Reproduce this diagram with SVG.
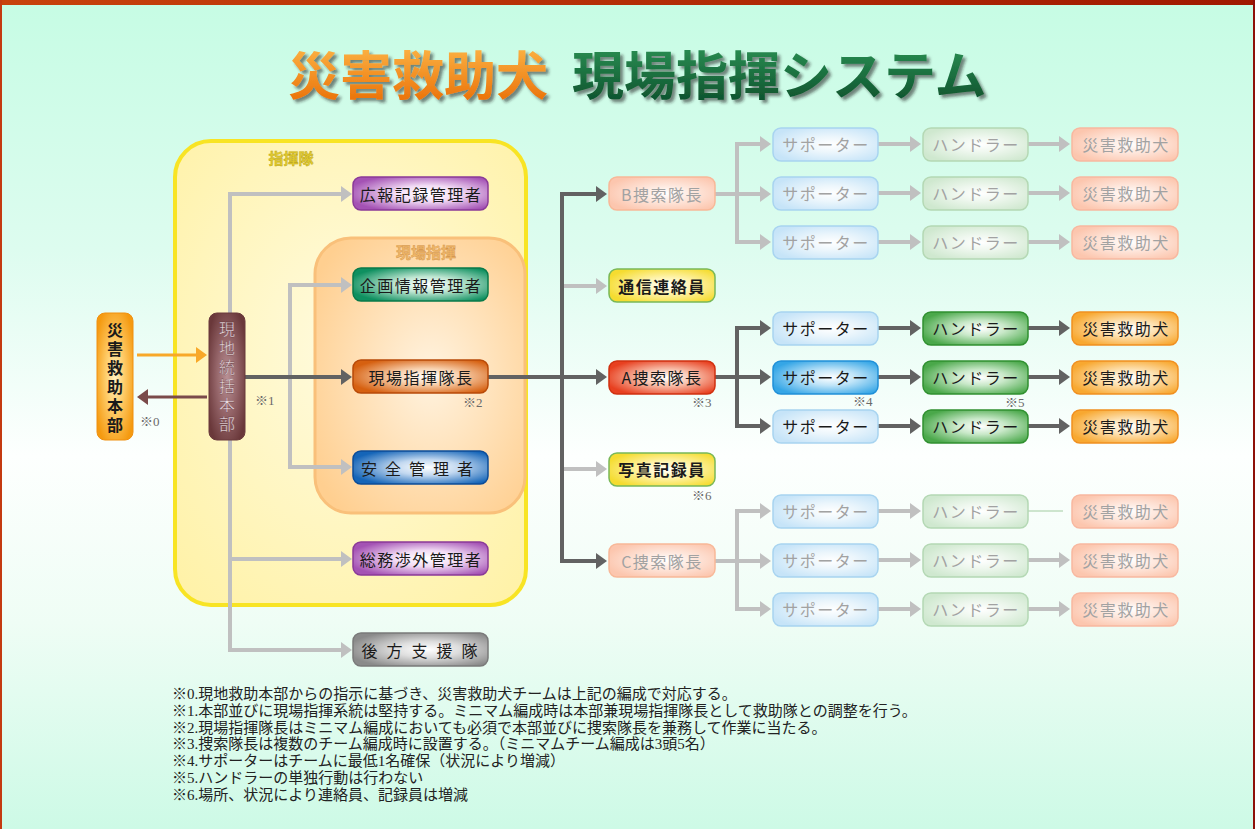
<svg xmlns="http://www.w3.org/2000/svg" width="1255" height="829" viewBox="0 0 1255 829">
<defs>
  <linearGradient id="bg" x1="0" y1="0" x2="0" y2="1">
    <stop offset="0" stop-color="#c6fce4"/>
    <stop offset="0.3" stop-color="#ddfcef"/>
    <stop offset="0.55" stop-color="#fdfffe"/>
    <stop offset="0.75" stop-color="#effdf5"/>
    <stop offset="1" stop-color="#cdfae6"/>
  </linearGradient>
  <linearGradient id="border" x1="0" y1="0" x2="1" y2="0">
    <stop offset="0" stop-color="#c8420c"/>
    <stop offset="1" stop-color="#a01800"/>
  </linearGradient>
  <linearGradient id="titleO" x1="0" y1="0" x2="0" y2="1">
    <stop offset="0" stop-color="#ffc050"/>
    <stop offset="1" stop-color="#e86800"/>
  </linearGradient>
  <linearGradient id="titleG" x1="0" y1="0" x2="0" y2="1">
    <stop offset="0" stop-color="#2f9a5a"/>
    <stop offset="1" stop-color="#0a4a28"/>
  </linearGradient>
  <radialGradient id="gYbox" cx="0.5" cy="0.45" r="0.7">
    <stop offset="0" stop-color="#fffbe0"/>
    <stop offset="1" stop-color="#fff2a8"/>
  </radialGradient>
  <radialGradient id="gObox" cx="0.55" cy="0.5" r="0.65">
    <stop offset="0" stop-color="#fff3e0"/>
    <stop offset="1" stop-color="#ffcf90"/>
  </radialGradient>
  <radialGradient id="gPurple" cx="0.55" cy="0.5" r="0.6"><stop offset="0" stop-color="#ffffff"/><stop offset="0.4" stop-color="#f2dcf5"/><stop offset="1" stop-color="#a452b4"/></radialGradient>
  <radialGradient id="gGreen" cx="0.55" cy="0.5" r="0.6"><stop offset="0" stop-color="#ffffff"/><stop offset="0.4" stop-color="#bfe6d2"/><stop offset="1" stop-color="#0f9060"/></radialGradient>
  <radialGradient id="gBrownO" cx="0.55" cy="0.5" r="0.6"><stop offset="0" stop-color="#ffffff"/><stop offset="0.4" stop-color="#f8d2b0"/><stop offset="1" stop-color="#d66010"/></radialGradient>
  <radialGradient id="gBlue" cx="0.55" cy="0.5" r="0.6"><stop offset="0" stop-color="#ffffff"/><stop offset="0.4" stop-color="#c2d8f0"/><stop offset="1" stop-color="#1565b8"/></radialGradient>
  <radialGradient id="gGray" cx="0.55" cy="0.5" r="0.6"><stop offset="0" stop-color="#ffffff"/><stop offset="0.4" stop-color="#dedede"/><stop offset="1" stop-color="#8a8a8a"/></radialGradient>
  <radialGradient id="gYellow" cx="0.55" cy="0.5" r="0.6"><stop offset="0" stop-color="#ffffff"/><stop offset="0.4" stop-color="#fff4b0"/><stop offset="1" stop-color="#f5dc30"/></radialGradient>
  <radialGradient id="gRed" cx="0.55" cy="0.5" r="0.6"><stop offset="0" stop-color="#ffffff"/><stop offset="0.4" stop-color="#f8c4b0"/><stop offset="1" stop-color="#e84020"/></radialGradient>
  <radialGradient id="gPaleO" cx="0.55" cy="0.5" r="0.6"><stop offset="0" stop-color="#ffffff"/><stop offset="0.4" stop-color="#fee8de"/><stop offset="1" stop-color="#fcc6ae"/></radialGradient>
  <radialGradient id="gPaleB" cx="0.55" cy="0.5" r="0.6"><stop offset="0" stop-color="#ffffff"/><stop offset="0.4" stop-color="#ecf6fc"/><stop offset="1" stop-color="#c6e4f8"/></radialGradient>
  <radialGradient id="gBrightB" cx="0.55" cy="0.5" r="0.6"><stop offset="0" stop-color="#ffffff"/><stop offset="0.4" stop-color="#bfe4f8"/><stop offset="1" stop-color="#35a6e6"/></radialGradient>
  <radialGradient id="gGreenM" cx="0.55" cy="0.5" r="0.6"><stop offset="0" stop-color="#ffffff"/><stop offset="0.4" stop-color="#c8e8c8"/><stop offset="1" stop-color="#4aa84a"/></radialGradient>
  <radialGradient id="gPaleG" cx="0.55" cy="0.5" r="0.6"><stop offset="0" stop-color="#ffffff"/><stop offset="0.4" stop-color="#eef7ee"/><stop offset="1" stop-color="#cfe8cf"/></radialGradient>
  <radialGradient id="gDog" cx="0.55" cy="0.5" r="0.6"><stop offset="0" stop-color="#ffffff"/><stop offset="0.4" stop-color="#fde2b4"/><stop offset="1" stop-color="#f8a830"/></radialGradient>
  <radialGradient id="gHQ" cx="0.5" cy="0.5" r="0.6"><stop offset="0" stop-color="#fff1c0"/><stop offset="0.4" stop-color="#ffd070"/><stop offset="1" stop-color="#f59a10"/></radialGradient>
  <radialGradient id="gLocal" cx="0.5" cy="0.5" r="0.6"><stop offset="0" stop-color="#b89094"/><stop offset="0.5" stop-color="#946468"/><stop offset="1" stop-color="#6a383a"/></radialGradient>
  <marker id="aD" markerWidth="11" markerHeight="16" refX="1" refY="8" orient="auto" markerUnits="userSpaceOnUse"><path d="M0,0 L11,8 L0,16 Z" fill="#626262"/></marker>
  <marker id="aL" markerWidth="11" markerHeight="16" refX="1" refY="8" orient="auto" markerUnits="userSpaceOnUse"><path d="M0,0 L11,8 L0,16 Z" fill="#c0c0c0"/></marker>
  <marker id="aO" markerWidth="11" markerHeight="16" refX="1" refY="8" orient="auto" markerUnits="userSpaceOnUse"><path d="M0,0 L11,8 L0,16 Z" fill="#f8a828"/></marker>
  <marker id="aB" markerWidth="11" markerHeight="16" refX="1" refY="8" orient="auto" markerUnits="userSpaceOnUse"><path d="M0,0 L11,8 L0,16 Z" fill="#7a4a4a"/></marker>
  <filter id="tsh" x="-5%" y="-20%" width="115%" height="160%">
    <feDropShadow dx="3" dy="3" stdDeviation="1.5" flood-color="#202020" flood-opacity="0.55"/>
  </filter>
</defs>
<style>
  .t { font-family: "Noto Sans CJK JP", sans-serif; font-size: 16px; text-anchor: middle; dominant-baseline: central; letter-spacing: 1.5px; fill: #1a1a1a; }
  .f { fill: #a2a2a2; }
  .b { font-weight: bold; }
  .v { font-family: "Noto Sans CJK JP", sans-serif; font-size: 16px; writing-mode: vertical-rl; letter-spacing: 3px; }
  .note { font-family: "Liberation Serif", "Noto Sans CJK JP", serif; font-size: 13px; fill: #6a6a6a; }
  .foot { font-family: "Liberation Serif", "Noto Sans CJK JP", serif; font-size: 15px; fill: #222; }
  .cD { fill: none; stroke: #626262; stroke-width: 4; }
  .cL { fill: none; stroke: #c0c0c0; stroke-width: 4; }
  .bx { stroke-width: 1.5; }
</style>

<rect x="0" y="0" width="1255" height="829" fill="url(#bg)"/>
<rect x="0" y="0" width="1255" height="5" fill="url(#border)"/>
<rect x="0" y="0" width="2" height="829" fill="#c43a10"/>
<rect x="1253" y="0" width="2" height="829" fill="#8e1008"/>

<g id="title" filter="url(#tsh)" font-family="Noto Sans CJK JP, sans-serif" font-size="52" font-weight="bold">
  <text x="288" y="95" fill="url(#titleO)">災害救助犬</text>
  <text x="572" y="95" fill="url(#titleG)">現場指揮システム</text>
</g>

<g id="shikitai">
  <rect x="175" y="141" width="351" height="464" rx="36" fill="url(#gYbox)" stroke="#f8e424" stroke-width="4"/>
  <text x="291" y="157" font-family="Noto Sans CJK JP, sans-serif" font-size="15" font-weight="bold" text-anchor="middle" dominant-baseline="central" fill="#e2cc30" stroke="#b8a010" stroke-width="0.4">指揮隊</text>
</g>
<g id="genba-shiki">
  <rect x="315" y="238" width="210" height="275" rx="36" fill="url(#gObox)" stroke="#f9c07a" stroke-width="3"/>
  <text x="426" y="251" font-family="Noto Sans CJK JP, sans-serif" font-size="15" font-weight="bold" text-anchor="middle" dominant-baseline="central" fill="#f0b868" stroke="#d09048" stroke-width="0.4">現場指揮</text>
</g>

<g id="connectors">
  <path d="M137,355 H197" fill="none" stroke="#f8a828" stroke-width="3" marker-end="url(#aO)"/>
  <path d="M207,397 H147" fill="none" stroke="#7a4a4a" stroke-width="3" marker-end="url(#aB)"/>
  <path class="cL" d="M230,313 V194 H342" marker-end="url(#aL)"/>
  <path class="cL" d="M230,440 V650 H342" marker-end="url(#aL)"/>
  <path class="cL" d="M230,559 H342" marker-end="url(#aL)"/>
  <path class="cL" d="M290,377 V285 H342" marker-end="url(#aL)"/>
  <path class="cL" d="M290,377 V467 H342" marker-end="url(#aL)"/>
  <path class="cD" d="M245,377 H342" marker-end="url(#aD)"/>
  <path class="cD" d="M488,377 H597" marker-end="url(#aD)"/>
  <path class="cD" d="M562,377 V194 H597" marker-end="url(#aD)"/>
  <path class="cD" d="M562,377 V561 H597" marker-end="url(#aD)"/>
  <path class="cL" d="M564,286 H597" marker-end="url(#aL)"/>
  <path class="cL" d="M564,469 H597" marker-end="url(#aL)"/>
  <path class="cL" d="M715,194 H761" marker-end="url(#aL)"/>
  <path class="cL" d="M737,194 V144 H761" marker-end="url(#aL)"/>
  <path class="cL" d="M737,194 V242 H761" marker-end="url(#aL)"/>
  <path class="cD" d="M715,377 H761" marker-end="url(#aD)"/>
  <path class="cD" d="M737,377 V328 H761" marker-end="url(#aD)"/>
  <path class="cD" d="M737,377 V426 H761" marker-end="url(#aD)"/>
  <path class="cL" d="M715,561 H761" marker-end="url(#aL)"/>
  <path class="cL" d="M737,561 V511 H761" marker-end="url(#aL)"/>
  <path class="cL" d="M737,561 V609 H761" marker-end="url(#aL)"/>
  <path class="cL" d="M878,144 H911" marker-end="url(#aL)"/>
  <path class="cL" d="M878,193 H911" marker-end="url(#aL)"/>
  <path class="cL" d="M878,242 H911" marker-end="url(#aL)"/>
  <path class="cD" d="M878,328 H911" marker-end="url(#aD)"/>
  <path class="cD" d="M878,377 H911" marker-end="url(#aD)"/>
  <path class="cD" d="M878,426 H911" marker-end="url(#aD)"/>
  <path class="cL" d="M878,511 H911" marker-end="url(#aL)"/>
  <path class="cL" d="M878,560 H911" marker-end="url(#aL)"/>
  <path class="cL" d="M878,609 H911" marker-end="url(#aL)"/>
  <path class="cL" d="M1028,144 H1060" marker-end="url(#aL)"/>
  <path class="cL" d="M1028,193 H1060" marker-end="url(#aL)"/>
  <path class="cL" d="M1028,242 H1060" marker-end="url(#aL)"/>
  <path class="cD" d="M1028,328 H1060" marker-end="url(#aD)"/>
  <path class="cD" d="M1028,377 H1060" marker-end="url(#aD)"/>
  <path class="cD" d="M1028,426 H1060" marker-end="url(#aD)"/>
  <path d="M1028,511 H1063" fill="none" stroke="#bfdcbf" stroke-width="1.5"/>
  <path class="cL" d="M1028,560 H1060" marker-end="url(#aL)"/>
  <path class="cL" d="M1028,609 H1060" marker-end="url(#aL)"/>
</g>

<g id="saigai-honbu">
  <rect x="97" y="313" width="36" height="127" rx="8" fill="url(#gHQ)" stroke="#f09010" stroke-width="1"/>
  <text class="v" x="115" y="322" font-weight="bold" fill="#1a1a1a">災害救助本部</text>
</g>
<g id="genchi-honbu">
  <rect x="209" y="313" width="36" height="127" rx="8" fill="url(#gLocal)" stroke="#6a3a3c" stroke-width="1"/>
  <text class="v" x="227" y="321" fill="#eadce2" stroke="#5a2e30" stroke-width="0.3">現地統括本部</text>
</g>

<g id="kouhou"><rect class="bx" x="353" y="177" width="135" height="33" rx="8" fill="url(#gPurple)" stroke="#8a3a98"/><text class="t" x="421" y="194">広報記録管理者</text></g>
<g id="kikaku"><rect class="bx" x="353" y="268" width="135" height="33" rx="8" fill="url(#gGreen)" stroke="#0a7a4a"/><text class="t" x="421" y="285">企画情報管理者</text></g>
<g id="genba-taichou"><rect class="bx" x="353" y="360" width="135" height="33" rx="8" fill="url(#gBrownO)" stroke="#b84a08"/><text class="t" x="421" y="377">現場指揮隊長</text></g>
<g id="anzen"><rect class="bx" x="353" y="451" width="135" height="33" rx="8" fill="url(#gBlue)" stroke="#0c4c98"/><text class="t" x="421" y="468" style="letter-spacing:8px">安全管理者</text></g>
<g id="soumu"><rect class="bx" x="353" y="542" width="135" height="33" rx="8" fill="url(#gPurple)" stroke="#8a3a98"/><text class="t" x="421" y="559">総務渉外管理者</text></g>
<g id="kouhou-shien"><rect class="bx" x="353" y="633" width="135" height="33" rx="8" fill="url(#gGray)" stroke="#7a7a7a"/><text class="t" x="424" y="650" style="letter-spacing:9px">後方支援隊</text></g>

<g id="b-taichou"><rect class="bx" x="609" y="177" width="106" height="33" rx="8" fill="url(#gPaleO)" stroke="#f8b898"/><text class="t f" x="662" y="194">B捜索隊長</text></g>
<g id="tsushin"><rect class="bx" x="609" y="269" width="106" height="33" rx="8" fill="url(#gYellow)" stroke="#78b858"/><text class="t b" x="662" y="286">通信連絡員</text></g>
<g id="a-taichou"><rect class="bx" x="609" y="361" width="106" height="33" rx="8" fill="url(#gRed)" stroke="#d03010"/><text class="t" x="662" y="377">A捜索隊長</text></g>
<g id="shashin"><rect class="bx" x="609" y="453" width="106" height="33" rx="8" fill="url(#gYellow)" stroke="#78b858"/><text class="t b" x="662" y="469">写真記録員</text></g>
<g id="c-taichou"><rect class="bx" x="609" y="544" width="106" height="33" rx="8" fill="url(#gPaleO)" stroke="#f8b898"/><text class="t f" x="662" y="561">C捜索隊長</text></g>

<g id="b-supporter-1"><rect class="bx" x="773" y="128" width="105" height="33" rx="8" fill="url(#gPaleB)" stroke="#a8d4f0"/><text class="t f" x="826" y="144">サポーター</text></g>
<g id="b-supporter-2"><rect class="bx" x="773" y="177" width="105" height="33" rx="8" fill="url(#gPaleB)" stroke="#a8d4f0"/><text class="t f" x="826" y="193">サポーター</text></g>
<g id="b-supporter-3"><rect class="bx" x="773" y="226" width="105" height="33" rx="8" fill="url(#gPaleB)" stroke="#a8d4f0"/><text class="t f" x="826" y="242">サポーター</text></g>
<g id="a-supporter-1"><rect class="bx" x="773" y="312" width="105" height="33" rx="8" fill="url(#gPaleB)" stroke="#a8d4f0"/><text class="t" x="826" y="328">サポーター</text></g>
<g id="a-supporter-2"><rect class="bx" x="773" y="361" width="105" height="33" rx="8" fill="url(#gBrightB)" stroke="#2090d8"/><text class="t" x="826" y="377">サポーター</text></g>
<g id="a-supporter-3"><rect class="bx" x="773" y="410" width="105" height="33" rx="8" fill="url(#gPaleB)" stroke="#a8d4f0"/><text class="t" x="826" y="426">サポーター</text></g>
<g id="c-supporter-1"><rect class="bx" x="773" y="495" width="105" height="33" rx="8" fill="url(#gPaleB)" stroke="#a8d4f0"/><text class="t f" x="826" y="511">サポーター</text></g>
<g id="c-supporter-2"><rect class="bx" x="773" y="544" width="105" height="33" rx="8" fill="url(#gPaleB)" stroke="#a8d4f0"/><text class="t f" x="826" y="560">サポーター</text></g>
<g id="c-supporter-3"><rect class="bx" x="773" y="593" width="105" height="33" rx="8" fill="url(#gPaleB)" stroke="#a8d4f0"/><text class="t f" x="826" y="609">サポーター</text></g>

<g id="b-handler-1"><rect class="bx" x="923" y="128" width="105" height="33" rx="8" fill="url(#gPaleG)" stroke="#b4d8b4"/><text class="t f" x="976" y="144">ハンドラー</text></g>
<g id="b-handler-2"><rect class="bx" x="923" y="177" width="105" height="33" rx="8" fill="url(#gPaleG)" stroke="#b4d8b4"/><text class="t f" x="976" y="193">ハンドラー</text></g>
<g id="b-handler-3"><rect class="bx" x="923" y="226" width="105" height="33" rx="8" fill="url(#gPaleG)" stroke="#b4d8b4"/><text class="t f" x="976" y="242">ハンドラー</text></g>
<g id="a-handler-1"><rect class="bx" x="923" y="312" width="105" height="33" rx="8" fill="url(#gGreenM)" stroke="#309030"/><text class="t" x="976" y="328">ハンドラー</text></g>
<g id="a-handler-2"><rect class="bx" x="923" y="361" width="105" height="33" rx="8" fill="url(#gGreenM)" stroke="#309030"/><text class="t" x="976" y="377">ハンドラー</text></g>
<g id="a-handler-3"><rect class="bx" x="923" y="410" width="105" height="33" rx="8" fill="url(#gGreenM)" stroke="#309030"/><text class="t" x="976" y="426">ハンドラー</text></g>
<g id="c-handler-1"><rect class="bx" x="923" y="495" width="105" height="33" rx="8" fill="url(#gPaleG)" stroke="#b4d8b4"/><text class="t f" x="976" y="511">ハンドラー</text></g>
<g id="c-handler-2"><rect class="bx" x="923" y="544" width="105" height="33" rx="8" fill="url(#gPaleG)" stroke="#b4d8b4"/><text class="t f" x="976" y="560">ハンドラー</text></g>
<g id="c-handler-3"><rect class="bx" x="923" y="593" width="105" height="33" rx="8" fill="url(#gPaleG)" stroke="#b4d8b4"/><text class="t f" x="976" y="609">ハンドラー</text></g>

<g id="b-dog-1"><rect class="bx" x="1072" y="128" width="106" height="33" rx="8" fill="url(#gPaleO)" stroke="#f8b8a0"/><text class="t f" x="1126" y="144">災害救助犬</text></g>
<g id="b-dog-2"><rect class="bx" x="1072" y="177" width="106" height="33" rx="8" fill="url(#gPaleO)" stroke="#f8b8a0"/><text class="t f" x="1126" y="193">災害救助犬</text></g>
<g id="b-dog-3"><rect class="bx" x="1072" y="226" width="106" height="33" rx="8" fill="url(#gPaleO)" stroke="#f8b8a0"/><text class="t f" x="1126" y="242">災害救助犬</text></g>
<g id="a-dog-1"><rect class="bx" x="1072" y="312" width="106" height="33" rx="8" fill="url(#gDog)" stroke="#f09020"/><text class="t" x="1126" y="328">災害救助犬</text></g>
<g id="a-dog-2"><rect class="bx" x="1072" y="361" width="106" height="33" rx="8" fill="url(#gDog)" stroke="#f09020"/><text class="t" x="1126" y="377">災害救助犬</text></g>
<g id="a-dog-3"><rect class="bx" x="1072" y="410" width="106" height="33" rx="8" fill="url(#gDog)" stroke="#f09020"/><text class="t" x="1126" y="426">災害救助犬</text></g>
<g id="c-dog-1"><rect class="bx" x="1072" y="495" width="106" height="33" rx="8" fill="url(#gPaleO)" stroke="#f8b8a0"/><text class="t f" x="1126" y="511">災害救助犬</text></g>
<g id="c-dog-2"><rect class="bx" x="1072" y="544" width="106" height="33" rx="8" fill="url(#gPaleO)" stroke="#f8b8a0"/><text class="t f" x="1126" y="560">災害救助犬</text></g>
<g id="c-dog-3"><rect class="bx" x="1072" y="593" width="106" height="33" rx="8" fill="url(#gPaleO)" stroke="#f8b8a0"/><text class="t f" x="1126" y="609">災害救助犬</text></g>

<g id="marks">
  <text class="note" x="140" y="426">※0</text>
  <text class="note" x="255" y="405">※1</text>
  <text class="note" x="463" y="407">※2</text>
  <text class="note" x="692" y="407">※3</text>
  <text class="note" x="853" y="406">※4</text>
  <text class="note" x="1005" y="407">※5</text>
  <text class="note" x="692" y="500">※6</text>
</g>

<g id="footnotes">
  <text class="foot" x="172" y="699">※0.現地救助本部からの指示に基づき、災害救助犬チームは上記の編成で対応する。</text>
  <text class="foot" x="172" y="716">※1.本部並びに現場指揮系統は堅持する。ミニマム編成時は本部兼現場指揮隊長として救助隊との調整を行う。</text>
  <text class="foot" x="172" y="733">※2.現場指揮隊長はミニマム編成においても必須で本部並びに捜索隊長を兼務して作業に当たる。</text>
  <text class="foot" x="172" y="749">※3.捜索隊長は複数のチーム編成時に設置する。（ミニマムチーム編成は3頭5名）</text>
  <text class="foot" x="172" y="766">※4.サポーターはチームに最低1名確保（状況により増減）</text>
  <text class="foot" x="172" y="783">※5.ハンドラーの単独行動は行わない</text>
  <text class="foot" x="172" y="800">※6.場所、状況により連絡員、記録員は増減</text>
</g>
</svg>
